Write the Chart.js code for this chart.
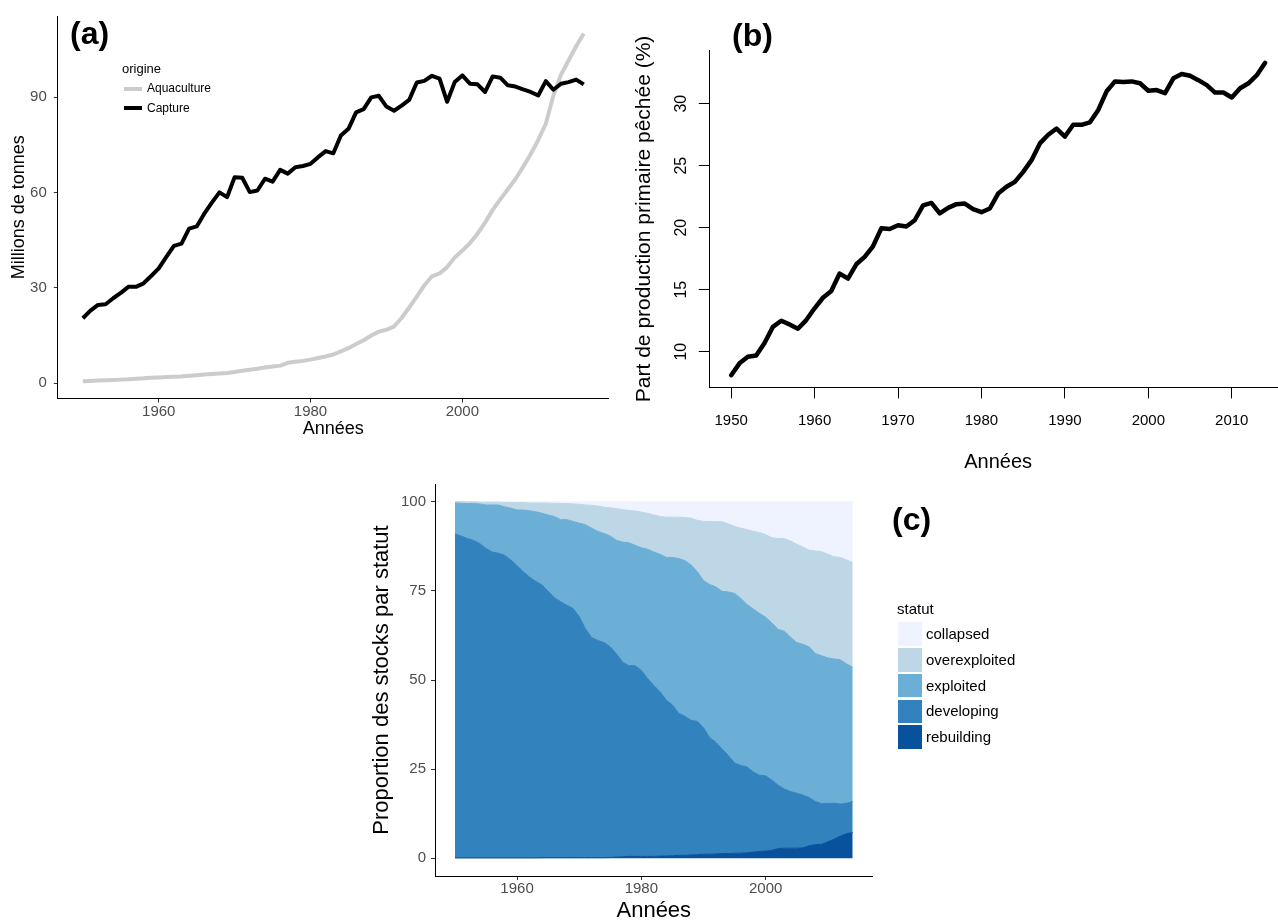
<!DOCTYPE html>
<html lang="fr">
<head>
<meta charset="utf-8">
<title>Pêche mondiale</title>
<script src="https://cdn.jsdelivr.net/npm/chart.js@4.4.0/dist/chart.umd.min.js"></script>
<style>
  html, body { margin: 0; padding: 0; background: #fff; }
  body { position: relative; width: 1278px; height: 920px; overflow: hidden; font-family: "Liberation Sans", Arial, sans-serif; }
  canvas { position: absolute; }
  .txt { position: absolute; line-height: 1; white-space: nowrap; color: #000; }
  .panel { font-weight: bold; font-size: 32px; }
  .key { position: absolute; }
</style>
</head>
<body>
<canvas id="chartA" width="620" height="445" style="left:0;top:0"></canvas>
<canvas id="chartB" width="680" height="480" style="left:620px;top:0"></canvas>
<canvas id="chartC" width="560" height="460" style="left:360px;top:470px"></canvas>

<div class="txt panel" style="left:70px;top:17px">(a)</div>
<div class="txt panel" style="left:732px;top:19px">(b)</div>
<div class="txt panel" style="left:892px;top:503px">(c)</div>

<!-- legende (a) -->
<div class="txt" style="left:122px;top:62px;font-size:13px">origine</div>
<div class="key" style="left:124px;top:87px;width:18px;height:4px;background:#cccccc"></div>
<div class="txt" style="left:147px;top:82px;font-size:12px">Aquaculture</div>
<div class="key" style="left:124px;top:106px;width:18px;height:4px;background:#000"></div>
<div class="txt" style="left:147px;top:102px;font-size:12px">Capture</div>

<!-- legende (c) -->
<div class="txt" style="left:897px;top:601px;font-size:15px">statut</div>
<div id="legendC"></div>

<script>
// ---- (a) production en millions de tonnes, 1950-2016
const anneesA = Array.from({ length: 67 }, (_, i) => 1950 + i);
const capture = [
  20.4, 22.8, 24.6, 24.8, 26.7, 28.4, 30.3, 30.3, 31.4, 33.7,
  36.1, 39.7, 43.2, 43.9, 48.6, 49.3, 53.3, 56.8, 60.0, 58.5,
  64.8, 64.6, 60.1, 60.6, 64.3, 63.4, 67.1, 65.9, 67.9, 68.3,
  69.0, 71.1, 73.0, 72.3, 77.9, 80.0, 85.2, 86.2, 89.9, 90.4,
  87.0, 85.7, 87.3, 89.1, 94.6, 95.1, 96.7, 95.8, 88.5, 94.7,
  96.8, 94.2, 94.0, 91.6, 96.5, 96.1, 93.7, 93.3, 92.4, 91.6,
  90.5, 95.0, 92.3, 94.2, 94.7, 95.5, 94.0
];
const aquaculture = [
  0.6, 0.7, 0.8, 0.9, 1.0, 1.1, 1.2, 1.4, 1.5, 1.7,
  1.8, 1.9, 2.0, 2.1, 2.3, 2.5, 2.7, 2.9, 3.0, 3.2,
  3.5, 3.9, 4.2, 4.5, 4.9, 5.2, 5.5, 6.4, 6.7, 7.0,
  7.4, 7.9, 8.4, 9.0, 10.0, 11.0, 12.3, 13.5, 15.0, 16.2,
  16.8, 17.8, 20.5, 23.8, 27.2, 30.8, 33.6, 34.5, 36.5, 39.5,
  41.7, 44.0, 47.0, 50.5, 54.5, 57.8, 61.0, 64.2, 68.0, 72.0,
  76.5, 81.6, 90.5, 97.0, 101.5, 106.0, 110.0
];
const ticksAX = [1960, 1980, 2000];
const ticksAY = [0, 30, 60, 90];

// ---- (b) part de production primaire pechee (%), 1950-2014
const anneesB = Array.from({ length: 65 }, (_, i) => 1950 + i);
const partPechee = [
  8.1, 9.06, 9.6, 9.7, 10.7, 12.0, 12.5, 12.2, 11.85, 12.55,
  13.5, 14.35, 14.9, 16.3, 15.9, 17.05, 17.65, 18.5, 19.95, 19.9,
  20.2, 20.1, 20.6, 21.8, 22.0, 21.15, 21.6, 21.9, 21.95, 21.5,
  21.25, 21.55, 22.75, 23.3, 23.7, 24.5, 25.45, 26.8, 27.5, 28.0,
  27.35, 28.3, 28.3, 28.5, 29.5, 31.0, 31.8, 31.75, 31.8, 31.65,
  31.05, 31.1, 30.85, 32.05, 32.4, 32.25, 31.9, 31.5, 30.9, 30.9,
  30.5, 31.25, 31.65, 32.3, 33.3
];
const ticksBX = [1950, 1960, 1970, 1980, 1990, 2000, 2010];
const ticksBY = [10, 15, 20, 25, 30];

// ---- (c) proportion des stocks par statut, limites cumulees (%), 1950-2014
const anneesC = Array.from({ length: 65 }, (_, i) => 1950 + i);
const hautRebuilding = [
  0.1, 0.1, 0.1, 0.1, 0.1, 0.1, 0.1, 0.1, 0.1, 0.1,
  0.1, 0.1, 0.1, 0.1, 0.15, 0.15, 0.15, 0.15, 0.15, 0.15,
  0.15, 0.15, 0.15, 0.15, 0.15, 0.2, 0.3, 0.4, 0.5, 0.5,
  0.5, 0.5, 0.5, 0.6, 0.6, 0.7, 0.8, 0.8, 0.9, 1.0,
  1.1, 1.1, 1.2, 1.3, 1.3, 1.4, 1.4, 1.5, 1.7, 1.9,
  2.0, 2.2, 2.7, 2.8, 2.8, 2.8, 2.9, 3.5, 3.8, 3.9,
  4.6, 5.3, 6.2, 6.9, 7.2
];
const hautDeveloping = [
  91.0, 90.4, 89.7, 89.2, 88.3, 86.9, 85.9, 85.6, 85.0, 83.7,
  82.1, 80.4, 78.9, 77.7, 76.7, 74.9, 73.1, 72.0, 71.0, 70.1,
  67.8, 64.4, 61.9, 61.1, 60.5, 59.3, 57.3, 55.0, 54.0, 54.0,
  52.7, 50.4, 48.5, 46.7, 44.4, 43.0, 40.7, 39.8, 38.7, 38.4,
  36.6, 33.8, 32.5, 30.6, 28.8, 26.7, 26.0, 25.6, 24.2, 23.3,
  23.1, 21.9, 20.5, 19.4, 18.7, 18.2, 17.7, 17.0, 15.9, 15.3,
  15.4, 15.4, 15.2, 15.4, 15.9
];
const hautExploited = [
  99.7, 99.6, 99.5, 99.5, 99.4, 99.1, 99.1, 99.1, 98.6, 98.2,
  97.7, 97.7, 97.5, 97.2, 96.8, 96.3, 95.9, 95.0, 95.0, 94.5,
  94.0, 93.6, 92.6, 91.7, 91.1, 90.4, 89.2, 88.7, 88.5, 87.8,
  87.1, 86.7, 85.9, 85.3, 84.4, 84.4, 84.1, 83.5, 82.3, 80.4,
  77.9, 76.8, 76.1, 74.9, 74.7, 74.3, 72.9, 71.2, 69.9, 68.7,
  67.6, 66.0, 64.2, 63.7, 62.0, 60.5, 60.0, 59.3, 57.4, 56.8,
  56.2, 55.9, 55.7, 54.5, 53.6
];
const hautOverexploited = [
  100, 100, 100, 100, 99.9, 99.9, 99.9, 99.9, 99.8, 99.8,
  99.8, 99.8, 99.7, 99.7, 99.7, 99.6, 99.6, 99.5, 99.5, 99.4,
  99.3, 99.1, 99.0, 98.8, 98.5, 98.3, 98.1, 97.8, 97.6, 97.4,
  97.1, 96.8, 96.3, 95.9, 95.7, 95.7, 95.7, 95.6, 95.4, 94.8,
  94.5, 94.5, 94.4, 94.4, 93.8, 93.1, 92.6, 92.2, 91.7, 91.4,
  90.8, 89.9, 89.7, 89.7, 89.0, 88.1, 87.3, 86.4, 86.2, 86.0,
  85.3, 84.6, 84.4, 83.7, 83.0
];
const hautCollapsed = anneesC.map(() => 100); // total des statuts
const statuts = ['rebuilding', 'developing', 'exploited', 'overexploited', 'collapsed'];
const couleursStatut = ['#08519c', '#3182bd', '#6baed6', '#bdd7e7', '#eff3ff'];
const ticksCX = [1960, 1980, 2000];
const ticksCY = [0, 25, 50, 75, 100];

Chart.defaults.font.family = '"Liberation Sans", Arial, sans-serif';
Chart.defaults.color = '#000';

const enPoints = (xs, ys) => xs.map((x, i) => ({ x: x, y: ys[i] }));
const fixerTicks = valeurs => scale => { scale.ticks = valeurs.map(v => ({ value: v })); };

// axes style ggplot (theme_classic)
function axeGgplot(extra) {
  return Object.assign({
    type: 'linear',
    grid: { display: true, drawOnChartArea: false, drawTicks: true, tickLength: 4, tickColor: '#333333', tickWidth: 1 },
    border: { display: true, color: '#000', width: 1 }
  }, extra);
}

const optionsCommunes = {
  responsive: false,
  animation: false,
  devicePixelRatio: 1,
  events: [],
  elements: { point: { radius: 0 }, line: { tension: 0, fill: false } },
  plugins: { legend: { display: false }, tooltip: { enabled: false } }
};

// ---------- (a)
new Chart(document.getElementById('chartA'), {
  type: 'line',
  data: {
    datasets: [
      { label: 'Capture', data: enPoints(anneesA, capture), borderColor: '#000', borderWidth: 4, borderJoinStyle: 'round', order: 0 },
      { label: 'Aquaculture', data: enPoints(anneesA, aquaculture), borderColor: '#cccccc', borderWidth: 4, borderJoinStyle: 'round', order: 1 }
    ]
  },
  options: Object.assign({}, optionsCommunes, {
    layout: { padding: { top: 15.4, right: 11.2, left: 0, bottom: 0 } },
    scales: {
      x: axeGgplot({
        min: 1946.7, max: 2019.3,
        afterBuildTicks: fixerTicks(ticksAX),
        afterFit: s => { s.height = 46.4; },
        ticks: { color: '#4d4d4d', font: { size: 15 }, padding: 0, maxRotation: 0, autoSkip: false, callback: v => String(v) },
        title: { display: true, text: 'Années', color: '#000', font: { size: 18 }, padding: { top: 0, bottom: 5 } }
      }),
      y: axeGgplot({
        min: -4.87, max: 115.5,
        afterBuildTicks: fixerTicks(ticksAY),
        afterFit: s => { s.width = 57.8; },
        ticks: { color: '#4d4d4d', font: { size: 15 }, padding: 7, callback: v => String(v) },
        title: { display: true, text: 'Millions de tonnes', color: '#000', font: { size: 18 }, padding: { top: 8.3, bottom: 0 } }
      })
    }
  })
});

// ---------- (b) etiquettes verticales sur l'axe y (style R base)
const ticksVerticaux = {
  id: 'ticksVerticaux',
  afterDraw(chart) {
    const ctx = chart.ctx;
    const y = chart.scales.y;
    ctx.save();
    ctx.font = '16px "Liberation Sans", Arial, sans-serif';
    ctx.fillStyle = '#000';
    ctx.textAlign = 'center';
    ctx.textBaseline = 'middle';
    ticksBY.forEach(v => {
      ctx.save();
      ctx.translate(chart.chartArea.left - 28.5, y.getPixelForValue(v));
      ctx.rotate(-Math.PI / 2);
      ctx.fillText(String(v), 0, 0);
      ctx.restore();
    });
    ctx.restore();
  }
};

const grilleR = { display: true, drawOnChartArea: false, drawTicks: true, tickLength: 11, tickColor: '#000', tickWidth: 1 };

new Chart(document.getElementById('chartB'), {
  type: 'line',
  data: {
    datasets: [
      { label: 'Part pêchée', data: enPoints(anneesB, partPechee), borderColor: '#000', borderWidth: 4.5, borderJoinStyle: 'round', borderCapStyle: 'round' }
    ]
  },
  options: Object.assign({}, optionsCommunes, {
    layout: { padding: { top: 50.4, right: 13.5, left: 0, bottom: 0 } },
    scales: {
      x: {
        type: 'linear', min: 1947.44, max: 2016.56,
        afterBuildTicks: fixerTicks(ticksBX),
        afterFit: s => { s.height = 92.6; },
        grid: grilleR,
        border: { display: true, color: '#000', width: 1 },
        ticks: { color: '#000', font: { size: 15 }, padding: 13, maxRotation: 0, autoSkip: false, callback: v => String(v) },
        title: { display: true, text: 'Années', color: '#000', font: { size: 20 }, padding: { top: 0, bottom: 5.5 } }
      },
      y: {
        type: 'linear', min: 7.12, max: 34.3,
        afterBuildTicks: fixerTicks(ticksBY),
        afterFit: s => { s.width = 89.8; },
        grid: grilleR,
        border: { display: true, color: '#000', width: 1 },
        ticks: { color: 'rgba(0,0,0,0)', font: { size: 1 }, callback: () => '' },
        title: { display: true, text: 'Part de production primaire pêchée (%)', color: '#000', font: { size: 21 }, padding: { top: 12, bottom: 0 } }
      }
    }
  }),
  plugins: [ticksVerticaux]
});

// ---------- (c)
const limitesC = [hautRebuilding, hautDeveloping, hautExploited, hautOverexploited, hautCollapsed];
new Chart(document.getElementById('chartC'), {
  type: 'line',
  data: {
    datasets: statuts.map((nom, i) => ({
      label: nom,
      data: enPoints(anneesC, limitesC[i]),
      backgroundColor: couleursStatut[i],
      borderColor: couleursStatut[i],
      borderWidth: 1,
      fill: i === 0 ? 'origin' : '-1'
    }))
  },
  options: Object.assign({}, optionsCommunes, {
    layout: { padding: { top: 6.7, right: 47.4, left: 0, bottom: 0 } },
    plugins: { legend: { display: false }, tooltip: { enabled: false }, filler: { propagate: false } },
    scales: {
      x: axeGgplot({
        min: 1946.8, max: 2017.2,
        afterBuildTicks: fixerTicks(ticksCX),
        afterFit: s => { s.height = 54; },
        ticks: { color: '#4d4d4d', font: { size: 15 }, padding: 0, maxRotation: 0, autoSkip: false, callback: v => String(v) },
        title: { display: true, text: 'Années', color: '#000', font: { size: 22 }, padding: { top: 0, bottom: 6 } }
      }),
      y: axeGgplot({
        min: -5, max: 105,
        afterBuildTicks: fixerTicks(ticksCY),
        afterFit: s => { s.width = 75; },
        ticks: { color: '#4d4d4d', font: { size: 15 }, padding: 5, callback: v => String(v) },
        title: { display: true, text: 'Proportion des stocks par statut', color: '#000', font: { size: 22 }, padding: { top: 8.8, bottom: 0 } }
      })
    }
  })
});

// legende (c) : du haut vers le bas comme dans ggplot
const legendeC = document.getElementById('legendC');
const hautsCles = [622.3, 648.2, 674.1, 699.6, 725.2];
statuts.slice().reverse().forEach((nom, k) => {
  const couleur = couleursStatut[statuts.length - 1 - k];
  const cle = document.createElement('div');
  cle.className = 'key';
  cle.style.cssText = `left:898.3px;top:${hautsCles[k]}px;width:23.4px;height:23.4px;background:${couleur}`;
  legendeC.appendChild(cle);
  const txt = document.createElement('div');
  txt.className = 'txt';
  txt.style.cssText = `left:926px;top:${hautsCles[k] + 3.5}px;font-size:15px`;
  txt.textContent = nom;
  legendeC.appendChild(txt);
});
</script>
</body>
</html>
